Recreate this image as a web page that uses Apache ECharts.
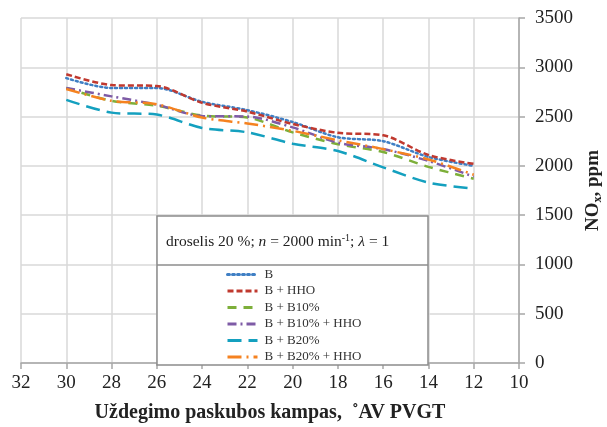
<!DOCTYPE html>
<html>
<head>
<meta charset="utf-8">
<script src="https://cdn.jsdelivr.net/npm/echarts@6/dist/echarts.min.js"></script>
<style>
  html, body { margin: 0; padding: 0; background: #fff; }
  #chart { width: 607px; height: 427px; }
</style>
</head>
<body>
<div id="chart"></div>
<script>
// uždegimo paskubos kampas, °AV PVGT
const angles = [30, 28, 26, 24, 22, 20, 18, 16, 14, 12];

const seriesNames = ['B', 'B + HHO', 'B + B10%', 'B + B10% + HHO', 'B + B20%', 'B + B20% + HHO'];
const noxB = [2890, 2790, 2790, 2650, 2565, 2445, 2290, 2250, 2090, 2000];
const noxBHho = [2930, 2820, 2810, 2640, 2550, 2425, 2335, 2310, 2110, 2020];
const noxB10 = [2790, 2660, 2610, 2510, 2490, 2340, 2220, 2140, 1990, 1870];
const noxB10Hho = [2790, 2705, 2620, 2505, 2500, 2390, 2235, 2170, 2050, 1890];
const noxB20 = [2670, 2540, 2520, 2385, 2340, 2225, 2150, 1985, 1830, 1770];
const noxB20Hho = [2780, 2660, 2625, 2490, 2430, 2355, 2260, 2170, 2065, 1910];

const xTicks = [32, 30, 28, 26, 24, 22, 20, 18, 16, 14, 12, 10];
const yTicks = [0, 500, 1000, 1500, 2000, 2500, 3000, 3500];

const allData = [noxB, noxBHho, noxB10, noxB10Hho, noxB20, noxB20Hho];
const colors = ['#3F7FC4', '#C0392F', '#7DAF3A', '#7E5BA6', '#14A0BF', '#F58220'];
const dashes = [[2, 3], [6, 3], [9, 7], [9, 4, 2, 4], [14, 7], [14, 5, 2, 5]];

const font = 'Liberation Serif';

const chart = echarts.init(document.getElementById('chart'));

const option = {
  animation: false,
  textStyle: { fontFamily: font },
  grid: { left: 21, right: 88, top: 18, bottom: 64, outerBoundsMode: 'none', containLabel: false },
  xAxis: {
    type: 'value',
    inverse: true,
    min: xTicks[xTicks.length - 1],
    max: xTicks[0],
    interval: 2,
    name: 'Uždegimo paskubos kampas,  ˚AV PVGT',
    nameLocation: 'middle',
    nameGap: 40,
    nameTextStyle: { fontFamily: font, fontSize: 20, fontWeight: 'bold', color: '#222' },
    axisLine: { lineStyle: { color: '#a6a6a6', width: 1.5 } },
    axisTick: { show: true, length: 6, lineStyle: { color: '#a6a6a6', width: 1.5 } },
    axisLabel: { fontFamily: font, fontSize: 19, color: '#222', margin: 11 },
    splitLine: { show: true, lineStyle: { color: '#d9d9d9', width: 1.5 } }
  },
  yAxis: {
    type: 'value',
    position: 'right',
    min: yTicks[0],
    max: yTicks[yTicks.length - 1],
    interval: 500,
    name: 'NO{sub|x}, ppm',
    nameLocation: 'middle',
    nameRotate: 90,
    nameGap: 61,
    nameTextStyle: {
      fontFamily: font, fontSize: 19, fontWeight: 'bold', color: '#222',
      rich: {
        sub: { fontFamily: font, fontSize: 12, fontWeight: 'bold', color: '#222', padding: [9, 0, 0, 0] }
      }
    },
    axisLine: { show: true, lineStyle: { color: '#a6a6a6', width: 1.5 } },
    axisTick: { show: true, length: 6, lineStyle: { color: '#a6a6a6', width: 1.5 } },
    axisLabel: { fontFamily: font, fontSize: 19, color: '#222', margin: 16, formatter: v => String(v) },
    splitLine: { show: true, lineStyle: { color: '#d9d9d9', width: 1.5 } }
  },
  legend: {
    orient: 'vertical',
    left: 226,
    top: 268,
    padding: 0,
    itemWidth: 30,
    itemHeight: 12,
    itemGap: 3.5,
    z: 20,
    data: seriesNames,
    itemStyle: { opacity: 0 },
    lineStyle: { width: 3 },
    textStyle: { fontFamily: font, fontSize: 13, color: '#333', padding: [0, 0, 0, 2] }
  },
  graphic: [
    {
      type: 'rect',
      z: 10,
      shape: { x: 157, y: 216, width: 271, height: 149 },
      style: { fill: '#fff', stroke: '#8c8c8c', lineWidth: 1.5 }
    },
    {
      type: 'line',
      z: 11,
      shape: { x1: 157, y1: 265, x2: 428, y2: 265 },
      style: { stroke: '#8c8c8c', lineWidth: 1.5 }
    },
    {
      type: 'text',
      z: 12,
      left: 166,
      top: 233,
      style: {
        text: 'droselis 20 %; {i|n} = 2000 min{sup|-1}; {i|λ} = 1',
        font: '15.5px "Liberation Serif"',
        fill: '#222',
        rich: {
          i: { fontFamily: font, fontSize: 15.5, fontStyle: 'italic', fill: '#222' },
          sup: { fontFamily: font, fontSize: 10, fill: '#222', padding: [0, 0, 8, 0] }
        }
      }
    }
  ],
  series: seriesNames.map((name, i) => ({
    name: name,
    type: 'line',
    smooth: 0.3,
    symbol: 'none',
    color: colors[i],
    lineStyle: { width: 2.5, type: dashes[i], color: colors[i], cap: i === 0 ? 'round' : 'butt' },
    data: angles.map((a, j) => [a, allData[i][j]])
  }))
};

chart.setOption(option);
</script>
</body>
</html>
